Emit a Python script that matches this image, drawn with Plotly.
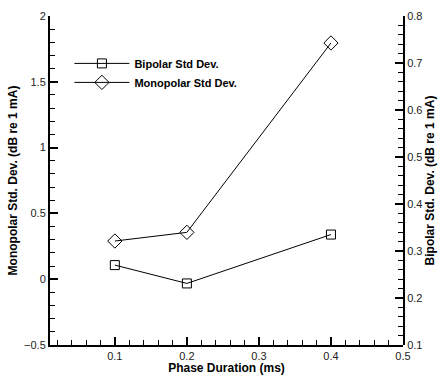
import plotly.graph_objects as go

phase = [0.1, 0.2, 0.4]
bipolar = [0.27, 0.231, 0.335]
monopolar = [0.29, 0.356, 1.795]

FONT = "Liberation Sans, Arial, sans-serif"
X_RANGE = [0.01, 0.5]

fig = go.Figure()
fig.add_trace(go.Scatter(
    x=phase, y=bipolar, name="Bipolar Std Dev.", xaxis="x2", yaxis="y2",
    mode="lines+markers",
    line=dict(color="black", width=1),
    marker=dict(symbol="square-open", size=9, color="black", line=dict(width=1)),
))
fig.add_trace(go.Scatter(
    x=phase, y=monopolar, name="Monopolar Std Dev.", xaxis="x", yaxis="y",
    mode="lines+markers",
    line=dict(color="black", width=1),
    marker=dict(symbol="diamond-open", size=11, color="black", line=dict(width=1)),
))

def axis(rng, tick0, dtick, minor_dtick, title, standoff, **kw):
    d = dict(
        range=rng, tickmode="linear", tick0=tick0, dtick=dtick,
        showline=True, linecolor="black", linewidth=2,
        ticks="inside", ticklen=8, tickwidth=2, tickcolor="black",
        showgrid=False, zeroline=False, automargin=False,
        tickfont=dict(family=FONT, size=11, color="#222"),
        minor=dict(dtick=minor_dtick, ticks="inside",
                   ticklen=5, tickwidth=1, tickcolor="black", showgrid=False),
        title=dict(text="<b>%s</b>" % title, standoff=standoff,
                   font=dict(family=FONT, size=12, color="black")),
    )
    d.update(kw)
    return d

fig.update_layout(
    width=445, height=375,
    margin=dict(l=50, r=42, t=16, b=30),
    plot_bgcolor="rgba(0,0,0,0)", paper_bgcolor="white",
    font=dict(family=FONT, color="black"),
    showlegend=True,
    legend=dict(
        x=0.055, y=0.9, xanchor="left", yanchor="top",
        bgcolor="rgba(0,0,0,0)",
        font=dict(family=FONT, size=11, color="black", weight="bold"),
        itemwidth=55, tracegroupgap=0,
    ),
    xaxis=axis(X_RANGE, 0.1, 0.1, 0.02, "Phase Duration (ms)", 3,
               domain=[0, 1], anchor="y"),
    yaxis=axis([-0.5, 2], -0.5, 0.5, 0.1, "Monopolar Std. Dev. (dB re 1 mA)", 4,
               domain=[0, 1], anchor="x"),
    xaxis2=dict(range=X_RANGE, domain=[0, 1], anchor="y2", visible=False,
                showgrid=False, zeroline=False),
    yaxis2=axis([0.1, 0.8], 0.1, 0.1, 0.02, "Bipolar Std. Dev. (dB re 1 mA)", 4,
                domain=[0, 1], anchor="x2", side="right"),
)

fig.write_html("out.html")
